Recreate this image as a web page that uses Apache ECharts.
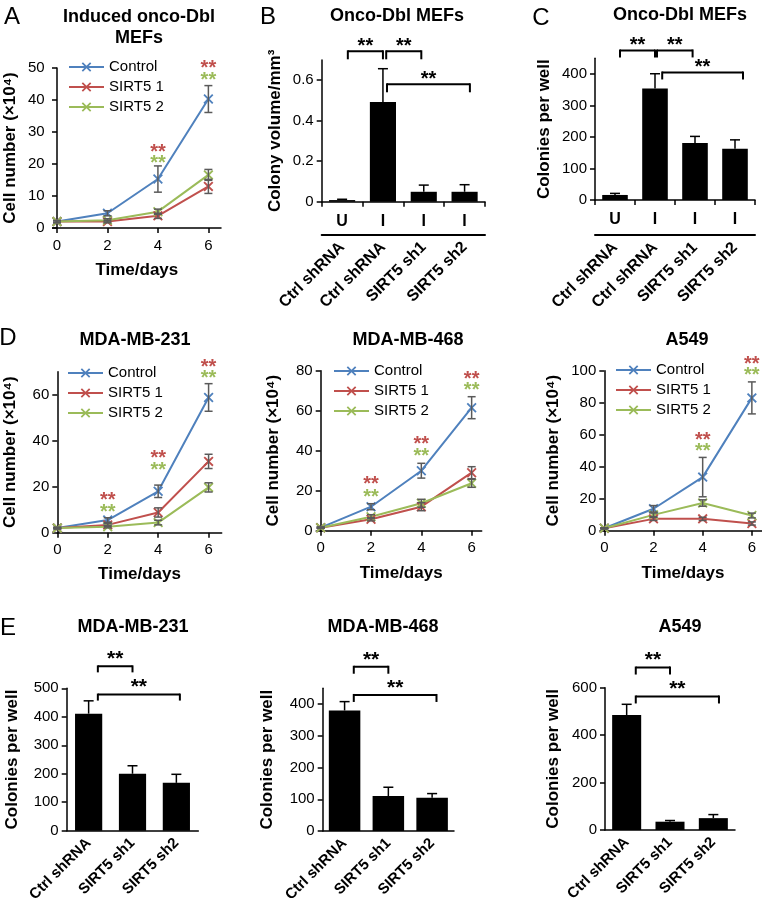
<!DOCTYPE html>
<html><head><meta charset="utf-8">
<script src="https://cdn.jsdelivr.net/npm/echarts@6/dist/echarts.min.js"></script>
<style>html,body{margin:0;padding:0;background:#fff}#c{width:762px;height:898px}</style>
</head><body><div id="c"></div>
<script>
// ===================== DATA =====================
const days = [0, 2, 4, 6];
const lineNames = ['Control', 'SIRT5 1', 'SIRT5 2'];

// Panel A: Induced onco-Dbl MEFs (cell number x10^4)
const aControl = [2.0, 4.6, 15.3, 40.3];
const aControlErr = [0.3, 0.8, 4.1, 4.2];
const aSirt1 = [2.0, 2.0, 3.8, 13.0];
const aSirt1Err = [0.3, 0.4, 0.8, 2.2];
const aSirt2 = [2.0, 2.4, 5.1, 16.6];
const aSirt2Err = [0.3, 0.5, 0.8, 1.7];
const aStarDays = [4, 6];
const aStarRed = [25.3, 51.5];
const aStarGreen = [21.6, 47.8];
const aYTicks = [0, 10, 20, 30, 40, 50];

// Panel D1: MDA-MB-231
const d1Control = [2.0, 5.5, 18.0, 58.8];
const d1ControlErr = [0.3, 1.0, 2.7, 6.0];
const d1Sirt1 = [2.0, 3.4, 8.8, 31.0];
const d1Sirt1Err = [0.3, 0.6, 2.0, 3.1];
const d1Sirt2 = [2.0, 2.6, 4.4, 19.7];
const d1Sirt2Err = [0.3, 0.5, 1.0, 2.0];
const d1StarDays = [2, 4, 6];
const d1StarRed = [16.2, 34.4, 74.1];
const d1StarGreen = [11.1, 29.3, 69.4];
const d1YTicks = [0, 20, 40, 60];

// Panel D2: MDA-MB-468
const d2Control = [1.5, 12.0, 30.0, 61.5];
const d2ControlErr = [0.3, 1.5, 3.7, 5.5];
const d2Sirt1 = [1.5, 5.7, 12.0, 29.0];
const d2Sirt1Err = [0.3, 0.8, 2.0, 3.0];
const d2Sirt2 = [1.5, 7.0, 13.7, 23.7];
const d2Sirt2Err = [0.3, 1.0, 2.0, 2.0];
const d2StarDays = [2, 4, 6];
const d2StarRed = [25.4, 45.4, 77.9];
const d2StarGreen = [19.2, 39.5, 72.4];
const d2YTicks = [0, 20, 40, 60, 80];

// Panel D3: A549
const d3Control = [1.5, 13.7, 33.5, 83.0];
const d3ControlErr = [0.3, 2.0, 12.3, 10.0];
const d3Sirt1 = [1.5, 7.4, 7.4, 4.5];
const d3Sirt1Err = [0.3, 1.0, 1.0, 1.0];
const d3Sirt2 = [1.5, 9.9, 17.3, 9.5];
const d3Sirt2Err = [0.3, 1.2, 2.0, 1.5];
const d3StarDays = [4, 6];
const d3StarRed = [59.6, 107];
const d3StarGreen = [52.4, 100];
const d3YTicks = [0, 20, 40, 60, 80, 100];

// Panels B, C: Onco-Dbl MEFs
const bcTreatments = ['U', 'I', 'I', 'I'];
const bcSamples = ['Ctrl shRNA', 'Ctrl shRNA', 'SIRT5 sh1', 'SIRT5 sh2'];
const bVolume = [0.008, 0.493, 0.049, 0.049];
const bVolumeErr = [0.004, 0.164, 0.033, 0.035];
const bYTicks = [0, 0.2, 0.4, 0.6];
const bBrackets = [[0.14, 1.0, 0.743], [1.08, 1.94, 0.743], [1.1, 3.13, 0.58]]; // [from, to, height]
const cColonies = [16, 354, 181, 163];
const cColoniesErr = [5, 47, 21, 28];
const cYTicks = [0, 100, 200, 300, 400];
const cBrackets = [[0.125, 1.0, 475], [1.05, 1.94, 475], [1.18, 3.2, 405]];

// Panel E: colonies per well
const eSamples = ['Ctrl shRNA', 'SIRT5 sh1', 'SIRT5 sh2'];
const e1Colonies = [411, 200, 168];
const e1Err = [45, 28, 30];
const e1YTicks = [0, 100, 200, 300, 400, 500];
const e1Brackets = [[0.21, 1.0, 577], [0.21, 2.08, 478]];
const e2Colonies = [380, 110, 105];
const e2Err = [28, 28, 13];
const e2YTicks = [0, 100, 200, 300, 400];
const e2Brackets = [[0.21, 1.0, 518], [0.21, 2.1, 429]];
const e3Colonies = [485, 35, 50];
const e3Err = [45, 5, 15];
const e3YTicks = [0, 200, 400, 600];
const e3Brackets = [[0.21, 1.0, 685], [0.21, 2.13, 563]];

// ===================== STYLE / BUILD =====================
const FONT = '"Liberation Sans", Arial, Helvetica, sans-serif';
const lineColors = ['#4F81BD', '#C0504D', '#9BBB59'];
const XPATH = 'path://M0,1.3L1.3,0L5,3.7L8.7,0L10,1.3L6.3,5L10,8.7L8.7,10L5,6.3L1.3,10L0,8.7L3.7,5Z';

const option = { animation: false, backgroundColor: '#fff', title: [], legend: [], grid: [], xAxis: [], yAxis: [], series: [] };

function addText(text, x, y, size, weight, lh) {
  option.title.push({
    text: text, left: x, top: y, padding: 0, textAlign: 'center', textVerticalAlign: 'middle',
    textStyle: { fontFamily: FONT, fontSize: size, fontWeight: weight, color: '#000', lineHeight: lh || size * 1.2 }
  });
}
const axisLineStyle = { show: true, lineStyle: { color: '#000', width: 1.5 } };
function tickStyle(vals) {
  const t = { show: true, inside: false, length: 5, lineStyle: { color: '#000', width: 1.5 } };
  if (vals) t.customValues = vals;
  return t;
}
function nameStyle() { return { fontFamily: FONT, fontSize: 17, fontWeight: 'bold', color: '#000' }; }
function labelStyle(extra) { return Object.assign({ fontFamily: FONT, fontSize: 15, color: '#000' }, extra || {}); }

function errShapes(top, bot, color, cap, both) {
  const st = { stroke: color, lineWidth: 1.5 };
  const ch = [
    { type: 'line', shape: { x1: top[0], y1: top[1], x2: bot[0], y2: bot[1] }, style: st },
    { type: 'line', shape: { x1: top[0] - cap / 2, y1: top[1], x2: top[0] + cap / 2, y2: top[1] }, style: st }
  ];
  if (both) ch.push({ type: 'line', shape: { x1: bot[0] - cap / 2, y1: bot[1], x2: bot[0] + cap / 2, y2: bot[1] }, style: st });
  return { type: 'group', children: ch };
}
function errRender(color, cap, both) {
  return function (params, api) {
    const x = api.value(0), y = api.value(1), e = api.value(2);
    const top = api.coord([x, y + e]);
    const bot = api.coord([x, both ? y - e : y]);
    return errShapes(top, bot, color, cap, both);
  };
}
function starText(x, y, color, size) {
  return { type: 'text', x: x, y: y,
    style: { text: '**', fill: color, fontFamily: FONT, fontSize: size, fontWeight: 'bold',
      align: 'center', verticalAlign: 'middle' } };
}
function starRender(color) {
  return function (params, api) {
    const p = api.coord([api.value(0), api.value(1)]);
    return starText(p[0], p[1] + 5, color, 20);
  };
}
// bracket data item: [0, height, from, to]; from/to are fractional category positions
function bracketRender(leg, starGap, starSize) {
  return function (params, api) {
    const h = api.value(1), from = api.value(2), to = api.value(3);
    const c0 = api.coord([0, h]), c1 = api.coord([1, h]);
    const bw = c1[0] - c0[0];
    const xa = c0[0] + from * bw, xb = c0[0] + to * bw, y = c0[1];
    const st = { stroke: '#000', lineWidth: 2, fill: 'none' };
    return { type: 'group', children: [
      { type: 'line', shape: { x1: xa, y1: y, x2: xb, y2: y }, style: st },
      { type: 'line', shape: { x1: xa, y1: y - 1, x2: xa, y2: y + leg }, style: st },
      { type: 'line', shape: { x1: xb, y1: y - 1, x2: xb, y2: y + leg }, style: st },
      starText((xa + xb) / 2, y - starGap, '#000', starSize)
    ] };
  };
}

function linePanel(p) {
  const g = option.grid.length, xi = option.xAxis.length, yi = option.yAxis.length;
  option.grid.push({ left: p.rect[0], top: p.rect[1], width: p.rect[2], height: p.rect[3], containLabel: false, outerBoundsMode: 'none' });
  option.xAxis.push({ type: 'value', gridIndex: g, min: p.xMin, max: p.xMax, axisLine: axisLineStyle, axisTick: tickStyle(days),
    splitLine: { show: false }, axisLabel: labelStyle({ customValues: days, margin: 10 }),
    name: 'Time/days', nameLocation: 'middle', nameGap: p.xNameGap, nameTextStyle: nameStyle() });
  option.yAxis.push({ type: 'value', gridIndex: g, min: 0, max: p.yMax, axisLine: axisLineStyle, axisTick: tickStyle(p.yTicks),
    splitLine: { show: false }, axisLabel: labelStyle({ customValues: p.yTicks, margin: 8 }),
    name: 'Cell number (×10⁴)', nameLocation: 'middle', nameGap: p.yNameGap, nameTextStyle: nameStyle() });
  p.series.forEach(function (s, k) {
    const vals = s[0];
    option.series.push({ type: 'line', name: lineNames[k], xAxisIndex: xi, yAxisIndex: yi,
      data: days.map(function (d, i) { return [d, vals[i]]; }),
      symbol: XPATH, symbolSize: 10, showSymbol: true, color: lineColors[k],
      lineStyle: { width: 2, color: lineColors[k] }, itemStyle: { color: lineColors[k] }, clip: false, z: 3 });
  });
  p.series.forEach(function (s) {
    const vals = s[0], errs = s[1];
    option.series.push({ type: 'custom', xAxisIndex: xi, yAxisIndex: yi, z: 4,
      data: days.map(function (d, i) { return [d, vals[i], errs[i]]; }),
      renderItem: errRender('#5a5a5a', 8, true) });
  });
  option.series.push({ type: 'custom', xAxisIndex: xi, yAxisIndex: yi, z: 5,
    data: p.starDays.map(function (d, i) { return [d, p.starRed[i]]; }), renderItem: starRender('#C0504D') });
  option.series.push({ type: 'custom', xAxisIndex: xi, yAxisIndex: yi, z: 5,
    data: p.starDays.map(function (d, i) { return [d, p.starGreen[i]]; }), renderItem: starRender('#9BBB59') });
  option.legend.push({ orient: 'vertical', left: p.legend[0], top: p.legend[1], itemWidth: 35, itemHeight: 12, itemGap: 4,
    padding: 0, data: lineNames, selectedMode: false,
    textStyle: { fontFamily: FONT, fontSize: 15, color: '#000', lineHeight: 16 } });
}

function barPanel(p) {
  const g = option.grid.length, yi = option.yAxis.length;
  option.grid.push({ left: p.rect[0], top: p.rect[1], width: p.rect[2], height: p.rect[3], containLabel: false, outerBoundsMode: 'none' });
  const cats = p.samples.map(function (s, i) { return 'c' + i; });
  const xi = option.xAxis.length;
  const rotLabel = labelStyle({ fontWeight: 'bold', fontSize: p.rotSize, rotate: 45, margin: 10, interval: 0,
    formatter: function (v, i) { return p.samples[i]; } });
  if (p.treat) {
    option.xAxis.push({ type: 'category', gridIndex: g, data: cats, axisLine: axisLineStyle,
      axisTick: { show: true, length: 5, alignWithLabel: false, lineStyle: { color: '#000', width: 1.5 } },
      axisLabel: labelStyle({ fontWeight: 'bold', fontSize: 16, margin: 12, interval: 0, formatter: function (v, i) { return p.treat[i]; } }) });
    option.xAxis.push({ type: 'category', gridIndex: g, data: cats, position: 'bottom', offset: p.treatOffset,
      axisLine: { show: true, lineStyle: { color: '#000', width: 2 } }, axisTick: { show: false }, axisLabel: rotLabel });
  } else {
    option.xAxis.push({ type: 'category', gridIndex: g, data: cats, axisLine: axisLineStyle, axisTick: { show: false }, axisLabel: rotLabel });
  }
  option.yAxis.push({ type: 'value', gridIndex: g, min: 0, max: p.yMax, axisLine: axisLineStyle, axisTick: tickStyle(p.yTicks),
    splitLine: { show: false }, axisLabel: labelStyle({ customValues: p.yTicks, margin: 8 }),
    name: p.yName, nameLocation: 'middle', nameGap: p.yNameGap, nameTextStyle: nameStyle() });
  option.series.push({ type: 'bar', xAxisIndex: xi, yAxisIndex: yi, data: p.values, barWidth: p.barWidth,
    itemStyle: { color: '#000' }, z: 2 });
  option.series.push({ type: 'custom', xAxisIndex: xi, yAxisIndex: yi, z: 4,
    data: p.values.map(function (v, i) { return [i, v, p.errs[i]]; }), renderItem: errRender('#000', 10, false) });
  option.series.push({ type: 'custom', xAxisIndex: xi, yAxisIndex: yi, z: 4,
    data: p.brackets.map(function (b) { return [0, b[2], b[0], b[1]]; }), renderItem: bracketRender(p.leg, p.starGap, p.starSize) });
}

// ---- Panel A
linePanel({ rect: [52.7, 68, 168.3, 160], xMin: -0.17, xMax: 6.5, yMax: 50, yTicks: aYTicks, xNameGap: 34, yNameGap: 34,
  series: [[aControl, aControlErr], [aSirt1, aSirt1Err], [aSirt2, aSirt2Err]],
  starDays: aStarDays, starRed: aStarRed, starGreen: aStarGreen, legend: [68, 59] });
// ---- Panel D
linePanel({ rect: [57.3, 371.7, 164.4, 161], xMin: 0, xMax: 6.52, yMax: 70, yTicks: d1YTicks, xNameGap: 33, yNameGap: 38.5,
  series: [[d1Control, d1ControlErr], [d1Sirt1, d1Sirt1Err], [d1Sirt2, d1Sirt2Err]],
  starDays: d1StarDays, starRed: d1StarRed, starGreen: d1StarGreen, legend: [67, 365] });
linePanel({ rect: [320.7, 370.7, 161, 160], xMin: 0, xMax: 6.4, yMax: 80, yTicks: d2YTicks, xNameGap: 34, yNameGap: 39,
  series: [[d2Control, d2ControlErr], [d2Sirt1, d2Sirt1Err], [d2Sirt2, d2Sirt2Err]],
  starDays: d2StarDays, starRed: d2StarRed, starGreen: d2StarGreen, legend: [333, 363] });
linePanel({ rect: [604.3, 370.7, 157.4, 160], xMin: 0, xMax: 6.4, yMax: 100, yTicks: d3YTicks, xNameGap: 34, yNameGap: 42.5,
  series: [[d3Control, d3ControlErr], [d3Sirt1, d3Sirt1Err], [d3Sirt2, d3Sirt2Err]],
  starDays: d3StarDays, starRed: d3StarRed, starGreen: d3StarGreen, legend: [615, 362] });
// ---- Panels B, C
barPanel({ rect: [321.7, 60, 163.3, 141.7], yMax: 0.7, yTicks: bYTicks, values: bVolume, errs: bVolumeErr,
  samples: bcSamples, treat: bcTreatments, treatOffset: 33, barWidth: '64%', yName: 'Colony volume/mm³', yNameGap: 38,
  brackets: bBrackets, leg: 8, starGap: 5, starSize: 20, rotSize: 16 });
barPanel({ rect: [595, 58.3, 160, 141.7], yMax: 450, yTicks: cYTicks, values: cColonies, errs: cColoniesErr,
  samples: bcSamples, treat: bcTreatments, treatOffset: 35, barWidth: '64%', yName: 'Colonies per well', yNameGap: 42,
  brackets: cBrackets, leg: 7, starGap: 5, starSize: 20, rotSize: 16 });
// ---- Panel E
barPanel({ rect: [66.7, 688.3, 131.6, 142.4], yMax: 500, yTicks: e1YTicks, values: e1Colonies, errs: e1Err,
  samples: eSamples, barWidth: '62%', yName: 'Colonies per well', yNameGap: 45.5,
  brackets: e1Brackets, leg: 6, starGap: 7, starSize: 21, rotSize: 15 });
barPanel({ rect: [322.7, 688.3, 131.3, 142.7], yMax: 450, yTicks: e2YTicks, values: e2Colonies, errs: e2Err,
  samples: eSamples, barWidth: '72%', yName: 'Colonies per well', yNameGap: 46.5,
  brackets: e2Brackets, leg: 7, starGap: 7, starSize: 21, rotSize: 15 });
barPanel({ rect: [605, 687.7, 130, 142.3], yMax: 600, yTicks: e3YTicks, values: e3Colonies, errs: e3Err,
  samples: eSamples, barWidth: '67%', yName: 'Colonies per well', yNameGap: 43.5,
  brackets: e3Brackets, leg: 7, starGap: 7, starSize: 21, rotSize: 15 });

// ---- Titles and panel letters
addText('Induced onco-Dbl\nMEFs', 139, 27.5, 18, 'bold', 21);
addText('Onco-Dbl MEFs', 397, 16, 18, 'bold');
addText('Onco-Dbl MEFs', 680, 15, 18, 'bold');
addText('MDA-MB-231', 135, 340, 18, 'bold');
addText('MDA-MB-468', 408, 340, 18, 'bold');
addText('A549', 687, 340, 18, 'bold');
addText('MDA-MB-231', 133, 627, 18, 'bold');
addText('MDA-MB-468', 383, 627, 18, 'bold');
addText('A549', 680, 627, 18, 'bold');
addText('A', 12, 17, 24, 'normal');
addText('B', 268, 17, 24, 'normal');
addText('C', 541, 18, 24, 'normal');
addText('D', 8, 338, 24, 'normal');
addText('E', 8, 628, 24, 'normal');

const chart = echarts.init(document.getElementById('c'), null, { renderer: 'canvas' });
chart.setOption(option);
</script>
</body></html>
